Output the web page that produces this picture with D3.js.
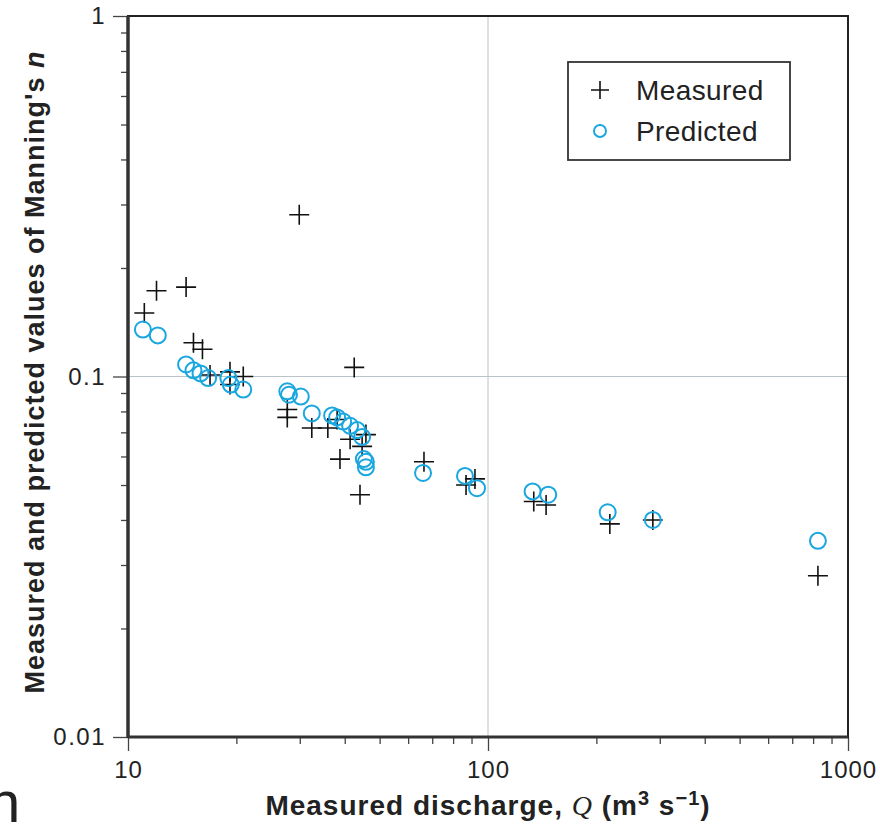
<!DOCTYPE html>
<html lang="en">
<head>
<meta charset="UTF-8">
<script src="https://d3js.org/d3.v7.min.js"></script>
<title>Manning's n</title>
<style>
    body { margin: 0; overflow: hidden; background: white; }
    svg { display: block; background: white; }
    text { font-family: "Liberation Sans", Arial, sans-serif; fill: #222; }
</style>
</head>
<body>
<script>
    const width = 880, height = 824;

    // measured values (black crosses)
    const measuredQ = [11.1, 12.0, 14.5, 15.2, 16.1, 29.9, 16.9, 19.2, 19.2, 20.9, 27.7, 27.7, 32.4, 35.9, 38.1,
                       38.8, 41.4, 42.5, 44.7, 45.8, 44.1, 66.4, 86.9, 92.0, 134, 145, 218, 287, 825];
    const measuredN = [0.150, 0.173, 0.177, 0.124, 0.119, 0.281, 0.101, 0.103, 0.095, 0.100, 0.081, 0.077, 0.072, 0.072, 0.076,
                       0.059, 0.067, 0.106, 0.064, 0.069, 0.047, 0.058, 0.050, 0.052, 0.045, 0.044, 0.039, 0.040, 0.028];

    // predicted values (blue circles)
    const predictedQ = [11.0, 12.1, 14.5, 15.2, 15.9, 16.7, 19.0, 19.3, 20.9, 27.7, 28.0, 30.2, 32.4, 36.9, 38.1,
                        39.6, 41.4, 43.3, 44.7, 45.2, 45.8, 45.8, 66.0, 86.3, 93.2, 133, 147, 215, 287, 825];
    const predictedN = [0.135, 0.130, 0.108, 0.104, 0.102, 0.099, 0.099, 0.095, 0.092, 0.091, 0.089, 0.088, 0.079, 0.078, 0.077,
                        0.075, 0.073, 0.071, 0.068, 0.059, 0.058, 0.056, 0.054, 0.053, 0.049, 0.048, 0.047, 0.042, 0.040, 0.035];

    const xMajor = [10, 100, 1000];
    const yMajor = [0.01, 0.1, 1];
    const yLabels = ["0.01", "0.1", "1"];

    const margin = { top: 16, left: 128, right: 32, bottom: 87 };

    const svg = d3.select('body').append('svg')
        .attr('width', width)
        .attr('height', height);

    const x = d3.scaleLog()
        .domain([10, 1000])
        .range([margin.left, width - margin.right]);

    const y = d3.scaleLog()
        .domain([0.01, 1])
        .range([height - margin.bottom, margin.top]);

    const x0 = x.range()[0], x1 = x.range()[1];
    const y0 = y.range()[0], y1 = y.range()[1];

    // grid lines at the middle decades
    svg.append('line')
        .attr('x1', x(100)).attr('x2', x(100))
        .attr('y1', y1).attr('y2', y0)
        .attr('stroke', '#b8c4c8').attr('stroke-width', 1);
    svg.append('line')
        .attr('x1', x0).attr('x2', x1)
        .attr('y1', y(0.1)).attr('y2', y(0.1))
        .attr('stroke', '#b8c4c8').attr('stroke-width', 1);

    // minor ticks
    const xMinor = x.ticks().filter(d => !xMajor.includes(d));
    const yMinor = y.ticks().filter(d => !yMajor.some(m => Math.abs(m - d) < 1e-9));

    const xMinorAxis = svg.append('g')
        .attr('transform', `translate(0, ${y0})`)
        .call(d3.axisBottom(x).tickValues(xMinor).tickSize(7).tickFormat(''));
    const yMinorAxis = svg.append('g')
        .attr('transform', `translate(${x0}, 0)`)
        .call(d3.axisLeft(y).tickValues(yMinor).tickSize(7).tickFormat(''));

    const xAxis = svg.append('g')
        .attr('transform', `translate(0, ${y0})`)
        .call(d3.axisBottom(x).tickValues(xMajor).tickSize(14).tickPadding(10).tickFormat(d3.format('d')));
    const yAxis = svg.append('g')
        .attr('transform', `translate(${x0}, 0)`)
        .call(d3.axisLeft(y).tickValues(yMajor).tickSize(15).tickPadding(7)
            .tickFormat((d, i) => yLabels[i]));

    [xMinorAxis, yMinorAxis, xAxis, yAxis].forEach(g => {
        g.select('.domain').remove();
        g.selectAll('.tick line').attr('stroke', '#444').attr('stroke-width', 1.3);
    });
    xAxis.selectAll('.tick text').style('font-size', '24px').style('letter-spacing', '1px').attr('fill', '#333');
    yAxis.selectAll('.tick text').style('font-size', '24px').style('letter-spacing', '1.5px').attr('fill', '#333');

    // frame
    svg.append('rect')
        .attr('x', x0).attr('y', y1)
        .attr('width', x1 - x0).attr('height', y0 - y1)
        .attr('fill', 'none')
        .attr('stroke', '#222').attr('stroke-width', 2);
    svg.append('line')
        .attr('x1', x0).attr('x2', x0).attr('y1', y1).attr('y2', y0)
        .attr('stroke', '#333').attr('stroke-width', 3.5);
    svg.append('line')
        .attr('x1', x0).attr('x2', x1).attr('y1', y0).attr('y2', y0)
        .attr('stroke', '#333').attr('stroke-width', 3);

    const measured = measuredQ.map((q, i) => ({ q: q, n: measuredN[i] }));
    const predicted = predictedQ.map((q, i) => ({ q: q, n: predictedN[i] }));

    const cross = (s) => `M${-s},0H${s}M0,${-s}V${s}`;

    svg.append('g').selectAll('path')
        .data(measured)
        .enter()
        .append('path')
        .attr('transform', d => `translate(${x(d.q)}, ${y(d.n)})`)
        .attr('d', cross(10))
        .attr('fill', 'none')
        .attr('stroke', '#111')
        .attr('stroke-width', 1.6);

    svg.append('g').selectAll('circle')
        .data(predicted)
        .enter()
        .append('circle')
        .attr('cx', d => x(d.q))
        .attr('cy', d => y(d.n))
        .attr('r', 8)
        .attr('fill', 'none')
        .attr('stroke', '#1aa7e0')
        .attr('stroke-width', 2);

    // legend
    const legend = svg.append('g').attr('transform', 'translate(568, 62)');
    legend.append('rect')
        .attr('width', 222).attr('height', 98)
        .attr('fill', 'white')
        .attr('stroke', '#333').attr('stroke-width', 1.8);
    legend.append('path')
        .attr('transform', 'translate(32, 28)')
        .attr('d', cross(9))
        .attr('stroke', '#111').attr('stroke-width', 1.6);
    legend.append('circle')
        .attr('cx', 32).attr('cy', 69).attr('r', 6)
        .attr('fill', 'none').attr('stroke', '#1aa7e0').attr('stroke-width', 2);
    legend.append('text')
        .attr('x', 68).attr('y', 38)
        .style('font-size', '28px')
        .style('letter-spacing', '0.4px')
        .text('Measured');
    legend.append('text')
        .attr('x', 68).attr('y', 79)
        .style('font-size', '28px')
        .style('letter-spacing', '0.4px')
        .text('Predicted');

    // axis titles
    const xTitle = svg.append('text')
        .attr('x', (x0 + x1) / 2)
        .attr('y', 815)
        .attr('text-anchor', 'middle')
        .style('font-size', '28px')
        .style('letter-spacing', '1px')
        .style('font-weight', 'bold');
    xTitle.append('tspan').text('Measured discharge, ');
    xTitle.append('tspan').style('font-style', 'italic').style('font-family', '"Liberation Serif", serif').style('font-weight', 'normal').text('Q');
    xTitle.append('tspan').text(' (m');
    xTitle.append('tspan').attr('dy', -10).style('font-size', '20px').text('3');
    xTitle.append('tspan').attr('dy', 10).text(' s');
    xTitle.append('tspan').attr('dy', -10).style('font-size', '20px').text('\u22121');
    xTitle.append('tspan').attr('dy', 10).text(')');

    const yTitle = svg.append('text')
        .attr('transform', `translate(44, 372) rotate(-90)`)
        .attr('text-anchor', 'middle')
        .style('font-size', '27px')
        .style('letter-spacing', '1px')
        .style('font-weight', 'bold');
    yTitle.append('tspan').text("Measured and predicted values of Manning's ");
    yTitle.append('tspan').style('font-style', 'italic').text('n');

    // stray glyph at the lower left corner
    svg.append('text')
        .attr('x', -12).attr('y', 822)
        .style('font-size', '58px')
        .attr('fill', '#111')
        .text('n');
</script>
</body>
</html>
